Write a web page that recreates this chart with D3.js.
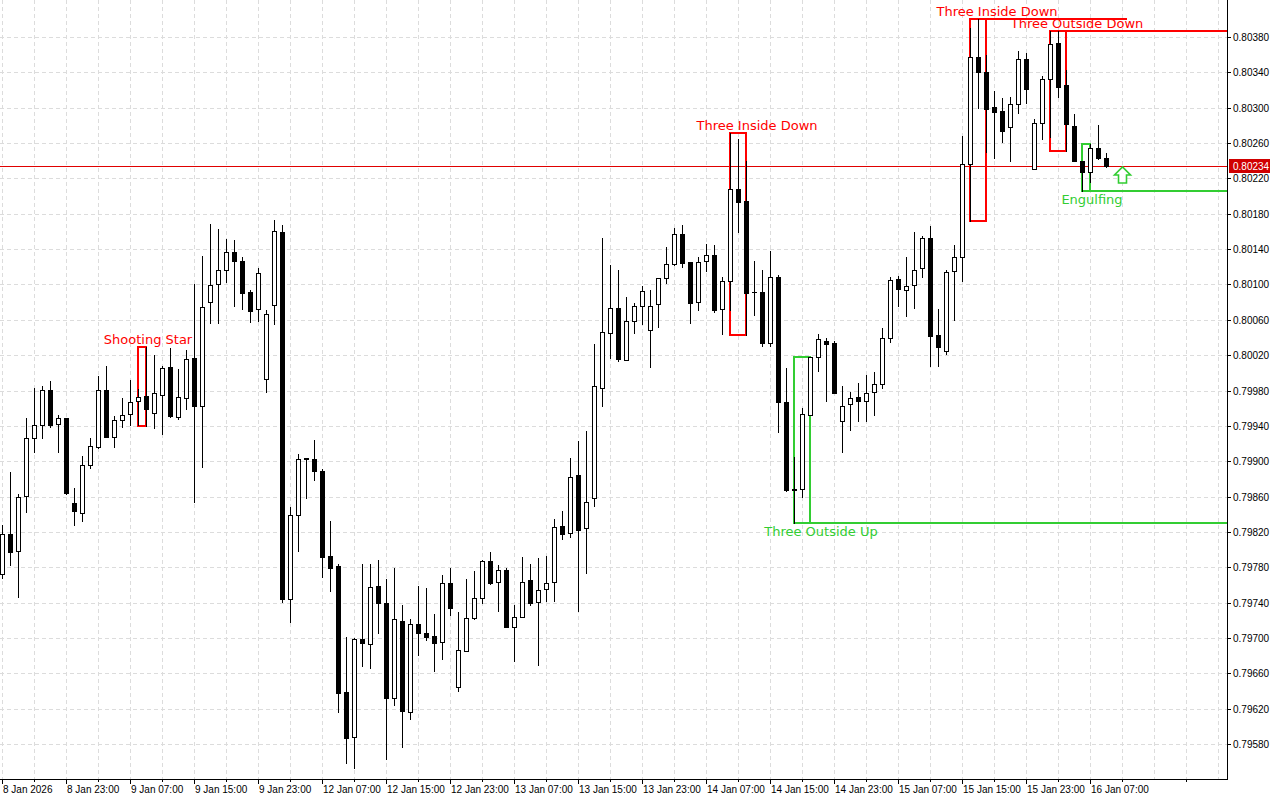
<!DOCTYPE html>
<html><head><meta charset="utf-8">
<script src="https://cdn.jsdelivr.net/npm/d3@7"></script>
<style>body{margin:0;background:#fff}svg{display:block}</style>
</head><body>
<svg id="c" width="1280" height="800"></svg>
<script>
const opens=[0.79772,0.79818,0.79798,0.79861,0.79926,0.79941,0.79981,0.79942,0.79949,0.79853,
0.79841,0.79896,0.79916,0.79981,0.79927,0.79947,0.79953,0.79968,0.79974,0.79955,
0.79975,0.80007,0.79950,0.79972,0.80017,0.79962,0.80080,0.80101,0.80116,0.80137,
0.80127,0.80091,0.80072,0.79993,0.80077,0.80159,0.79744,0.79839,0.79904,0.79902,
0.79889,0.79793,0.79781,0.79639,0.79588,0.79699,0.79693,0.79759,0.79740,0.79632,
0.79719,0.79616,0.79716,0.79706,0.79702,0.79695,0.79762,0.79645,0.79685,0.79723,
0.79745,0.79787,0.79763,0.79777,0.79712,0.79724,0.79766,0.79741,0.79755,0.79763,
0.79827,0.79819,0.79884,0.79824,0.79858,0.79983,0.80045,0.80073,0.80015,0.80059,
0.80076,0.80048,0.80078,0.80107,0.80123,0.80157,0.80125,0.80080,0.80127,0.80133,
0.80072,0.80104,0.80208,0.80194,0.80091,0.80091,0.80034,0.80108,0.79967,0.79869,
0.79869,0.79952,0.80018,0.80036,0.80034,0.79945,0.79965,0.79973,0.79968,0.79978,
0.79987,0.80039,0.80106,0.80094,0.80099,0.80119,0.80153,0.80043,0.80025,0.80115,
0.80131,0.80236,0.80357,0.80340,0.80301,0.80296,0.80278,0.80304,0.80355,0.80231,
0.80283,0.80332,0.80373,0.80326,0.80279,0.80240,0.80227,0.80254,0.80243];
const highs=[0.79828,0.79888,0.79863,0.79949,0.79983,0.79985,0.79991,0.79952,0.79949,0.79870,
0.79906,0.79926,0.79996,0.80008,0.79951,0.79972,0.79992,0.79982,0.80029,0.80020,
0.80008,0.80028,0.80004,0.80026,0.80101,0.80132,0.80168,0.80163,0.80151,0.80150,
0.80131,0.80094,0.80119,0.80071,0.80173,0.80167,0.79848,0.79908,0.79904,0.79924,
0.79891,0.79832,0.79784,0.79701,0.79700,0.79784,0.79784,0.79788,0.79767,0.79779,
0.79737,0.79721,0.79759,0.79757,0.79727,0.79771,0.79779,0.79729,0.79767,0.79776,
0.79788,0.79797,0.79783,0.79779,0.79737,0.79792,0.79784,0.79790,0.79793,0.79835,
0.79844,0.79904,0.79923,0.79934,0.80033,0.80153,0.80122,0.80116,0.80086,0.80079,
0.80098,0.80094,0.80107,0.80142,0.80164,0.80167,0.80125,0.80131,0.80146,0.80145,
0.80108,0.80271,0.80265,0.80240,0.80127,0.80116,0.80138,0.80111,0.80005,0.79905,
0.79960,0.80018,0.80044,0.80039,0.80036,0.79985,0.79978,0.79988,0.79998,0.80001,
0.80051,0.80108,0.80110,0.80131,0.80159,0.80155,0.80166,0.80072,0.80116,0.80145,
0.80268,0.80390,0.80400,0.80360,0.80319,0.80311,0.80312,0.80364,0.80362,0.80287,
0.80336,0.80387,0.80387,0.80343,0.80293,0.80240,0.80259,0.80280,0.80249];
const lows=[0.79768,0.79783,0.79746,0.79843,0.79910,0.79926,0.79939,0.79910,0.79863,0.79828,
0.79832,0.79892,0.79915,0.79927,0.79916,0.79939,0.79941,0.79941,0.79940,0.79938,
0.79931,0.79950,0.79948,0.79959,0.79854,0.79893,0.80056,0.80056,0.80103,0.80076,
0.80072,0.80058,0.80059,0.79978,0.80055,0.79741,0.79718,0.79798,0.79858,0.79879,
0.79769,0.79753,0.79616,0.79559,0.79553,0.79668,0.79666,0.79706,0.79563,0.79624,
0.79577,0.79608,0.79681,0.79698,0.79663,0.79676,0.79726,0.79640,0.79685,0.79721,
0.79740,0.79761,0.79731,0.79712,0.79674,0.79724,0.79737,0.79669,0.79742,0.79742,
0.79812,0.79814,0.79731,0.79773,0.79849,0.79962,0.80017,0.80013,0.80015,0.80045,
0.80055,0.80007,0.80052,0.80102,0.80122,0.80120,0.80056,0.80071,0.80115,0.80069,
0.80044,0.80071,0.80159,0.80043,0.80065,0.80030,0.80030,0.79933,0.79866,0.79830,
0.79859,0.79952,0.80002,0.79968,0.79977,0.79910,0.79935,0.79945,0.79945,0.79952,
0.79983,0.80035,0.80076,0.80064,0.80073,0.80108,0.80008,0.80008,0.80021,0.80060,
0.80104,0.80172,0.80300,0.80250,0.80243,0.80261,0.80240,0.80294,0.80305,0.80231,
0.80265,0.80267,0.80312,0.80251,0.80240,0.80206,0.80216,0.80242,0.80233];
const closes=[0.79818,0.79797,0.79859,0.79926,0.79941,0.79981,0.79941,0.79949,0.79864,0.79844,
0.79896,0.79917,0.79981,0.79927,0.79947,0.79952,0.79967,0.79973,0.79959,0.79977,
0.80005,0.79951,0.79973,0.80016,0.79962,0.80074,0.80099,0.80116,0.80137,0.80127,
0.80090,0.80070,0.80113,0.80067,0.80160,0.79744,0.79839,0.79902,0.79902,0.79889,
0.79792,0.79779,0.79638,0.79587,0.79699,0.79694,0.79758,0.79740,0.79632,0.79721,
0.79617,0.79716,0.79706,0.79701,0.79694,0.79762,0.79734,0.79686,0.79723,0.79745,
0.79787,0.79762,0.79777,0.79712,0.79724,0.79763,0.79740,0.79754,0.79762,0.79826,
0.79818,0.79882,0.79822,0.79854,0.79985,0.80046,0.80073,0.80016,0.80059,0.80076,
0.80093,0.80076,0.80107,0.80123,0.80157,0.80124,0.80079,0.80125,0.80133,0.80071,
0.80104,0.80208,0.80193,0.80090,0.80091,0.80034,0.80108,0.79967,0.79867,0.79867,
0.79953,0.80018,0.80038,0.80033,0.79977,0.79962,0.79972,0.79968,0.79977,0.79987,
0.80039,0.80105,0.80095,0.80098,0.80116,0.80153,0.80042,0.80029,0.80114,0.80131,
0.80236,0.80357,0.80340,0.80299,0.80295,0.80274,0.80304,0.80355,0.80321,0.80283,
0.80332,0.80372,0.80323,0.80282,0.80240,0.80227,0.80254,0.80243,0.80234];

const xTickIndex=[0,8,16,24,32,40,48,56,64,72,80,88,96,104,112,120,128,136];
const xTickLabels=["8 Jan 2026","8 Jan 23:00","9 Jan 07:00","9 Jan 15:00","9 Jan 23:00","12 Jan 07:00",
"12 Jan 15:00","12 Jan 23:00","13 Jan 07:00","13 Jan 15:00","13 Jan 23:00","14 Jan 07:00","14 Jan 15:00",
"14 Jan 23:00","15 Jan 07:00","15 Jan 15:00","15 Jan 23:00","16 Jan 07:00"];
const yTickValues=[0.80380,0.80340,0.80300,0.80260,0.80220,0.80180,0.80140,0.80100,0.80060,0.80020,
0.79980,0.79940,0.79900,0.79860,0.79820,0.79780,0.79740,0.79700,0.79660,0.79620,0.79580];
const lastPrice=0.80234;

const patternNames=["Shooting Star","Three Inside Down","Three Outside Up","Three Inside Down","Three Outside Down","Engulfing"];
const patternStart=[17,91,99,121,131,135];
const patternEnd=[18,93,101,123,133,136];
const patternBullish=[false,false,true,false,false,true];
const patternExtendTo=[null,null,160,140.6,160,160];
const arrowIndex=140, arrowPrice=0.80233;

const svg=d3.select("#c");
const R=1227,B=779;
const x=d3.scaleLinear().domain([-0.25,153.125]).range([0,R]);
const y=d3.scaleLinear().domain([0.795404,0.804219]).range([B,0]);
const RED="#ff0000",GREEN="#32cd32";
const ry=v=>Math.round(y(v));

svg.append("rect").attr("width",1280).attr("height",800).attr("fill","#fff");
svg.append("defs").append("clipPath").attr("id","plot").append("rect").attr("width",R).attr("height",B);

// grid
const grid=svg.append("g").attr("stroke","#dcdcdc").attr("stroke-dasharray","4,3").attr("shape-rendering","crispEdges");
grid.selectAll("line.h").data(yTickValues).join("line").attr("class","h")
  .attr("x1",0).attr("x2",R).attr("y1",d=>ry(d)+0.5).attr("y2",d=>ry(d)+0.5);
grid.selectAll("line.v").data(d3.range(0,153,4)).join("line").attr("class","v")
  .attr("x1",d=>x(d)+0.5).attr("x2",d=>x(d)+0.5).attr("y1",0).attr("y2",B);

// price line
svg.append("line").attr("x1",0).attr("x2",R).attr("y1",ry(lastPrice)+0.5).attr("y2",ry(lastPrice)+0.5)
  .attr("stroke","#e00000").attr("shape-rendering","crispEdges");

// pattern boxes
const pats=patternNames.map((n,i)=>{
  const hi=d3.max(highs.slice(patternStart[i],patternEnd[i]+1));
  const lo=d3.min(lows.slice(patternStart[i],patternEnd[i]+1));
  return {name:n,s:patternStart[i],e:patternEnd[i],bull:patternBullish[i],ext:patternExtendTo[i],hi,lo};
});
const pg=svg.append("g").attr("clip-path","url(#plot)").attr("fill","none").attr("stroke-width",2).attr("shape-rendering","crispEdges");
pats.forEach(p=>{
  const c=p.bull?GREEN:RED;
  pg.append("rect").attr("x",x(p.s)).attr("y",ry(p.hi)).attr("width",x(p.e)-x(p.s)).attr("height",ry(p.lo)-ry(p.hi)).attr("stroke",c);
  if(p.ext!==null){
    const yy=p.bull?ry(p.lo):ry(p.hi);
    pg.append("line").attr("x1",x(p.s)).attr("x2",x(p.ext)).attr("y1",yy).attr("y2",yy).attr("stroke",c);
  }
});

// candles
const idx=d3.range(closes.length);
const cg=svg.append("g").attr("shape-rendering","crispEdges");
cg.selectAll("line.w").data(idx).join("line").attr("class","w")
  .attr("x1",i=>x(i)+0.5).attr("x2",i=>x(i)+0.5)
  .attr("y1",i=>ry(highs[i])).attr("y2",i=>ry(lows[i])+1).attr("stroke","#000");
idx.forEach(i=>{
  const o=opens[i],c=closes[i];
  const top=ry(Math.max(o,c)),bot=ry(Math.min(o,c));
  const cx=x(i);
  if(bot-top<1){
    cg.append("line").attr("x1",cx-2).attr("x2",cx+3).attr("y1",top+0.5).attr("y2",top+0.5).attr("stroke","#000");
  } else if(c>o){
    cg.append("rect").attr("x",cx-1.5).attr("y",top+0.5).attr("width",4).attr("height",bot-top)
      .attr("fill","#fff").attr("stroke","#000");
  } else {
    cg.append("rect").attr("x",cx-2).attr("y",top).attr("width",5).attr("height",bot-top+1).attr("fill","#000");
  }
});

// arrow
const ax=x(arrowIndex)+0.5, ay=y(arrowPrice);
svg.append("path").attr("d",d3.line()([[ax,ay],[ax+8,ay+8],[ax+4,ay+8],[ax+4,ay+16],[ax-4,ay+16],[ax-4,ay+8],[ax-8,ay+8]])+"Z")
  .attr("fill","#fff").attr("stroke",GREEN).attr("stroke-width",1.6);

// labels
svg.append("g").selectAll("text").data(pats).join("text")
  .attr("x",p=>x(p.e)+(p.e-p.s>=2?11:2))
  .attr("y",p=>p.bull?ry(p.lo)+13:ry(p.hi)-3)
  .attr("text-anchor","middle").attr("font-family","DejaVu Sans").attr("font-size",13)
  .attr("fill",p=>p.bull?GREEN:RED).text(p=>p.name);

// axes
const xa=d3.axisBottom(x).tickValues(xTickIndex).tickFormat((d,i)=>xTickLabels[i]).tickSize(5).tickSizeOuter(0).tickPadding(2);
const gx=svg.append("g").attr("transform",`translate(0,${B})`).call(xa);
gx.selectAll("text").attr("text-anchor","start").attr("x",0.5);
gx.selectAll("line,path").attr("stroke","#000").attr("shape-rendering","crispEdges");
gx.select(".domain").attr("d",`M0,0.5H${R+1}`);
gx.attr("font-family","Liberation Sans").attr("font-size",10);
gx.selectAll("text").attr("fill","#000");
svg.append("g").attr("shape-rendering","crispEdges").selectAll("line").data(d3.range(4,153,8)).join("line")
  .attr("x1",d=>x(d)+0.5).attr("x2",d=>x(d)+0.5).attr("y1",B).attr("y2",B+3).attr("stroke","#000");

const ya=d3.axisRight(y).tickValues(yTickValues).tickFormat(d3.format(".5f")).tickSize(4).tickSizeOuter(0).tickPadding(2);
const gy=svg.append("g").attr("transform",`translate(${R},0)`).call(ya);
gy.selectAll("line,path").attr("stroke","#000").attr("shape-rendering","crispEdges");
gy.select(".domain").attr("d",`M0.5,0V${B+1}`);
gy.attr("font-family","Liberation Sans").attr("font-size",10);
gy.selectAll("text").attr("fill","#000");
gy.selectAll(".tick").attr("transform",d=>`translate(0,${ry(d)+0.5})`);

// price label
const py=ry(lastPrice);
svg.append("rect").attr("x",R+2).attr("y",py-7).attr("width",41).attr("height",14).attr("fill","#d00000");
svg.append("text").attr("x",R+6).attr("y",py+0.5).attr("dy","0.35em").attr("font-family","Liberation Sans")
  .attr("font-size",10).attr("fill","#fff").text(d3.format(".5f")(lastPrice));
</script>
</body></html>
